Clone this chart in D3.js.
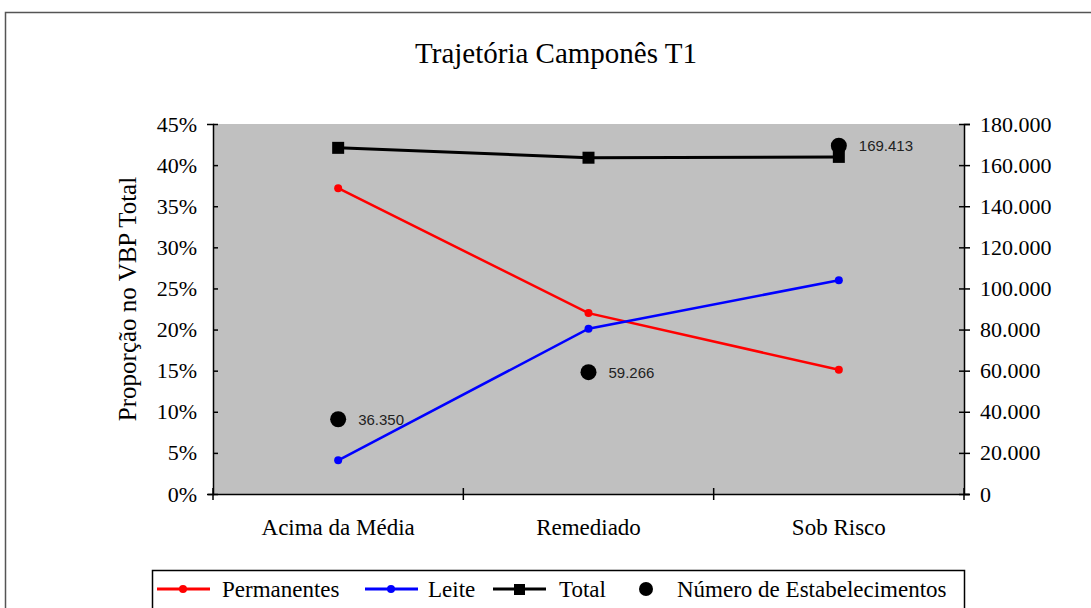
<!DOCTYPE html>
<html>
<head>
<meta charset="utf-8">
<script src="https://cdn.jsdelivr.net/npm/d3@7"></script>
<style>
  body { margin: 0; background: #fff; }
  svg { display: block; }
</style>
</head>
<body>
<svg id="chart" width="1091" height="608"></svg>
<script>
// data
const categories = ["Acima da Média", "Remediado", "Sob Risco"];
const permanentes = [0.372, 0.22, 0.151];
const leite = [0.041, 0.201, 0.26];
const total = [0.421, 0.409, 0.41];
const estabelecimentos = [36350, 59266, 169413];
const leftTicks = [0, 0.05, 0.1, 0.15, 0.2, 0.25, 0.3, 0.35, 0.4, 0.45];
const rightTicks = [0, 20000, 40000, 60000, 80000, 100000, 120000, 140000, 160000, 180000];

const serif = "'Liberation Serif', 'Times New Roman', serif";
const sans = "'Liberation Sans', Arial, sans-serif";

const svg = d3.select("#chart");

// outer chart frame (runs past the right and bottom edges)
svg.append("rect")
  .attr("x", 5.5).attr("y", 12.5)
  .attr("width", 1200).attr("height", 700)
  .attr("fill", "#fff").attr("stroke", "#555").attr("stroke-width", 1.5);

const plot = { left: 213, right: 964, top: 124, bottom: 494 };

const x = d3.scaleBand().domain(categories).range([plot.left, plot.right]);
const yL = d3.scaleLinear().domain([0, 0.45]).range([plot.bottom, plot.top]);
const yR = d3.scaleLinear().domain([0, 180000]).range([plot.bottom, plot.top]);
const cx = (d) => x(d) + x.bandwidth() / 2;

svg.append("rect")
  .attr("x", plot.left).attr("y", plot.top)
  .attr("width", plot.right - plot.left).attr("height", plot.bottom - plot.top)
  .attr("fill", "#c0c0c0");

// title
svg.append("text")
  .attr("x", 556).attr("y", 63)
  .attr("text-anchor", "middle")
  .style("font-family", serif).style("font-size", "29px")
  .text("Trajetória Camponês T1");

// left axis
const fmtPct = (d) => Math.round(d * 100) + "%";
const gL = svg.append("g")
  .attr("transform", `translate(${plot.left},0)`)
  .call(d3.axisLeft(yL).tickValues(leftTicks).tickFormat(fmtPct).tickSizeOuter(0).tickSize(6).tickPadding(10));
gL.selectAll(".tick line").attr("x2", 5);

// right axis
const fmtNum = (d) => d === 0 ? "0" : d3.format(",")(d).replace(/,/g, ".");
const gR = svg.append("g")
  .attr("transform", `translate(${plot.right},0)`)
  .call(d3.axisRight(yR).tickValues(rightTicks).tickFormat(fmtNum).tickSizeOuter(0).tickSize(6).tickPadding(10));
gR.selectAll(".tick line").attr("x1", -5);

// bottom axis
const gB = svg.append("g")
  .attr("transform", `translate(0,${plot.bottom})`)
  .call(d3.axisBottom(x).tickSize(0).tickPadding(25));
gB.select(".domain").attr("d", `M${plot.left - 5},0.5H${plot.right + 5}`);
const sepTicks = [plot.left, ...categories.map((c) => x(c) + x.bandwidth())];
gB.selectAll(".sep")
  .data(sepTicks)
  .enter()
  .append("line")
  .attr("x1", (d) => d).attr("x2", (d) => d)
  .attr("y1", -6).attr("y2", 6)
  .attr("stroke", "#000").attr("stroke-width", 1.5);

[gL, gR, gB].forEach((g) => {
  g.selectAll(".domain").attr("stroke", "#000").attr("stroke-width", 1.5);
  g.selectAll(".tick line").attr("stroke", "#000").attr("stroke-width", 1.5);
  g.selectAll("text").style("font-family", serif).style("font-size", "22px").attr("fill", "#000");
});
gB.selectAll("text").style("font-size", "23px").attr("dy", "0.71em");

// y axis title
svg.append("text")
  .attr("transform", "translate(136,299) rotate(-90)")
  .attr("text-anchor", "middle")
  .style("font-family", serif).style("font-size", "25px")
  .text("Proporção no VBP Total");

// lines
const line = d3.line().x((d, i) => cx(categories[i])).y((d) => yL(d));

svg.append("path").datum(total)
  .attr("d", line).attr("fill", "none").attr("stroke", "#000").attr("stroke-width", 3);
svg.append("path").datum(permanentes)
  .attr("d", line).attr("fill", "none").attr("stroke", "#ff0000").attr("stroke-width", 2.5);
svg.append("path").datum(leite)
  .attr("d", line).attr("fill", "none").attr("stroke", "#0000ff").attr("stroke-width", 2.5);

svg.selectAll(".m-perm").data(permanentes).enter().append("circle")
  .attr("cx", (d, i) => cx(categories[i])).attr("cy", (d) => yL(d))
  .attr("r", 4).attr("fill", "#ff0000");
svg.selectAll(".m-leite").data(leite).enter().append("circle")
  .attr("cx", (d, i) => cx(categories[i])).attr("cy", (d) => yL(d))
  .attr("r", 4).attr("fill", "#0000ff");
svg.selectAll(".m-total").data(total).enter().append("rect")
  .attr("x", (d, i) => cx(categories[i]) - 6).attr("y", (d) => yL(d) - 6)
  .attr("width", 12).attr("height", 12).attr("fill", "#000");

// establishments (right axis)
svg.selectAll(".m-est").data(estabelecimentos).enter().append("circle")
  .attr("cx", (d, i) => cx(categories[i])).attr("cy", (d) => yR(d))
  .attr("r", 8).attr("fill", "#000");
svg.selectAll(".l-est").data(estabelecimentos).enter().append("text")
  .attr("x", (d, i) => cx(categories[i]) + 20).attr("y", (d) => yR(d))
  .attr("dy", "0.36em")
  .style("font-family", sans).style("font-size", "15px").attr("fill", "#222")
  .text((d) => fmtNum(d));

// legend
const legend = svg.append("g");
legend.append("rect")
  .attr("x", 152.5).attr("y", 570.5).attr("width", 812).attr("height", 50)
  .attr("fill", "#fff").attr("stroke", "#000").attr("stroke-width", 1.5);

const legendItems = [
  { name: "Permanentes", color: "#ff0000", type: "dot", x: 157, tx: 222 },
  { name: "Leite", color: "#0000ff", type: "dot", x: 365, tx: 428 },
  { name: "Total", color: "#000", type: "square", x: 493, tx: 559 },
  { name: "Número de Estabelecimentos", color: "#000", type: "big", x: 619, tx: 677 },
];
const ly = 589;
legendItems.forEach((it) => {
  if (it.type === "big") {
    legend.append("circle").attr("cx", it.x + 27).attr("cy", ly).attr("r", 7).attr("fill", "#000");
  } else {
    legend.append("line")
      .attr("x1", it.x).attr("x2", it.x + 53).attr("y1", ly).attr("y2", ly)
      .attr("stroke", it.color).attr("stroke-width", 3);
    if (it.type === "dot") {
      legend.append("circle").attr("cx", it.x + 26).attr("cy", ly).attr("r", 4).attr("fill", it.color);
    } else {
      legend.append("rect").attr("x", it.x + 21).attr("y", ly - 5).attr("width", 11).attr("height", 11).attr("fill", "#000");
    }
  }
  legend.append("text")
    .attr("x", it.tx).attr("y", ly).attr("dy", "0.35em")
    .style("font-family", serif).style("font-size", "23px")
    .text(it.name);
});
</script>
</body>
</html>
